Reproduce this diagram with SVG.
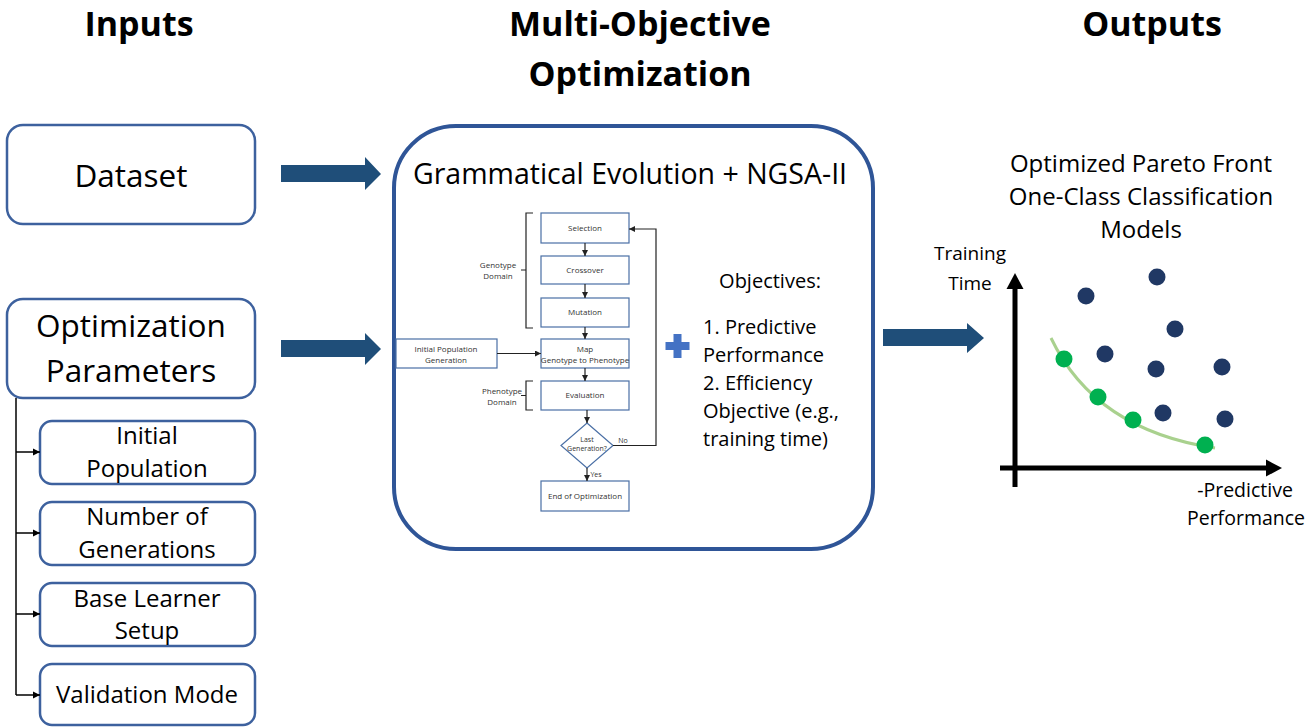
<svg xmlns="http://www.w3.org/2000/svg" width="1307" height="727" viewBox="0 0 1307 727">
  <defs>
    <style>
      text { font-family: "Open Sans", "Noto Sans", sans-serif; fill: #000; }
      .hdr { font-size: 34px; font-weight: bold; text-anchor: middle; }
      .big { font-size: 31.5px; text-anchor: middle; }
      .mid { font-size: 24px; text-anchor: middle; }
      .obj { font-size: 20px; }
      .fc { font-size: 8px; text-anchor: middle; fill: #333; }
      .fcs { font-size: 7px; text-anchor: middle; fill: #333; }
      .box { fill: #fff; stroke: #3D619E; stroke-width: 2.5; }
      .fbox { fill: #fff; stroke: #4A6FA5; stroke-width: 1.2; }
      .fline { fill: none; stroke: #222; stroke-width: 1.2; }
      .tree { fill: none; stroke: #000; stroke-width: 1.5; }
      .fat { fill: #1F4E79; }
      .dot { fill: #203864; }
      .pf { fill: #00B050; }
    </style>
    <marker id="fcArrow" viewBox="0 0 10 10" refX="10" refY="5" markerWidth="5" markerHeight="5" orient="auto">
      <path d="M0,0 L10,5 L0,10 z" fill="#222"/>
    </marker>
    <marker id="treeArrow" viewBox="0 0 10 10" refX="10" refY="5" markerWidth="5" markerHeight="5" orient="auto">
      <path d="M0,0 L10,5 L0,10 z" fill="#000"/>
    </marker>
  </defs>

  <rect width="1307" height="727" fill="#fff"/>

  <!-- Column headers -->
  <g id="headers">
    <text class="hdr" x="139" y="36">Inputs</text>
    <text class="hdr" x="640" y="36">Multi-Objective</text>
    <text class="hdr" x="640" y="86">Optimization</text>
    <text class="hdr" x="1152" y="36">Outputs</text>
  </g>

  <!-- Inputs -->
  <g id="dataset">
    <rect class="box" x="7" y="125" width="248" height="99" rx="16"/>
    <text class="big" x="131" y="187">Dataset</text>
  </g>
  <g id="opt-params">
    <rect class="box" x="7" y="299" width="248" height="99" rx="16"/>
    <text class="big" x="131" y="337">Optimization</text>
    <text class="big" x="131" y="382">Parameters</text>
  </g>
  <g id="initial-population">
    <rect class="box" x="40" y="421" width="215" height="63" rx="12"/>
    <text class="mid" x="147" y="444">Initial</text>
    <text class="mid" x="147" y="477">Population</text>
  </g>
  <g id="number-of-generations">
    <rect class="box" x="40" y="502" width="215" height="63" rx="12"/>
    <text class="mid" x="147" y="525">Number of</text>
    <text class="mid" x="147" y="558">Generations</text>
  </g>
  <g id="base-learner-setup">
    <rect class="box" x="40" y="583" width="215" height="63" rx="12"/>
    <text class="mid" x="147" y="607">Base Learner</text>
    <text class="mid" x="147" y="639">Setup</text>
  </g>
  <g id="validation-mode">
    <rect class="box" x="40" y="664" width="215" height="61" rx="12"/>
    <text class="mid" x="147" y="703">Validation Mode</text>
  </g>

  <!-- Optimization block -->
  <g id="optimizer">
    <rect x="394" y="126" width="479" height="423" rx="62" fill="#fff" stroke="#2F5597" stroke-width="4"/>
    <text x="630" y="184" font-size="28.5" text-anchor="middle">Grammatical Evolution + NGSA-II</text>
  </g>

  <!-- Flowchart of the evolutionary loop -->
  <g id="flowchart">
    <g id="fc-selection">
      <rect class="fbox" x="541" y="213" width="88" height="30"/>
      <text class="fc" x="585" y="231">Selection</text>
    </g>
    <g id="fc-crossover">
      <rect class="fbox" x="541" y="256" width="88" height="28"/>
      <text class="fc" x="585" y="273">Crossover</text>
    </g>
    <g id="fc-mutation">
      <rect class="fbox" x="541" y="298" width="88" height="29"/>
      <text class="fc" x="585" y="315">Mutation</text>
    </g>
    <g id="fc-map">
      <rect class="fbox" x="541" y="339" width="88" height="29"/>
      <text class="fc" x="585" y="352">Map</text>
      <text class="fc" x="585" y="363">Genotype to Phenotype</text>
    </g>
    <g id="fc-evaluation">
      <rect class="fbox" x="541" y="381" width="88" height="29"/>
      <text class="fc" x="585" y="398">Evaluation</text>
    </g>
    <g id="fc-last-generation">
      <polygon class="fbox" points="587,423 613,445.5 587,468 561,445.5"/>
      <text class="fcs" x="587" y="442">Last</text>
      <text class="fcs" x="587" y="451">Generation?</text>
    </g>
    <g id="fc-end">
      <rect class="fbox" x="541" y="481" width="88" height="30"/>
      <text class="fc" x="585" y="499">End of Optimization</text>
    </g>
    <g id="fc-init">
      <rect class="fbox" x="396" y="339" width="101" height="29"/>
      <text class="fc" x="446" y="352">Initial Population</text>
      <text class="fc" x="446" y="363">Generation</text>
    </g>
    <g id="fc-genotype-domain">
      <path class="fline" d="M533,213 H526 V328 H533 M526,270 H521"/>
      <text class="fc" x="498" y="268">Genotype</text>
      <text class="fc" x="498" y="279">Domain</text>
    </g>
    <g id="fc-phenotype-domain">
      <path class="fline" d="M533,381 H526 V410 H533 M526,395.5 H521"/>
      <text class="fc" x="502" y="394">Phenotype</text>
      <text class="fc" x="502" y="405">Domain</text>
    </g>
    <g id="fc-connectors">
      <line class="fline" x1="585" y1="243" x2="585" y2="256" marker-end="url(#fcArrow)"/>
      <line class="fline" x1="585" y1="284" x2="585" y2="298" marker-end="url(#fcArrow)"/>
      <line class="fline" x1="585" y1="327" x2="585" y2="339" marker-end="url(#fcArrow)"/>
      <line class="fline" x1="585" y1="368" x2="585" y2="381" marker-end="url(#fcArrow)"/>
      <line class="fline" x1="587" y1="410" x2="587" y2="423" marker-end="url(#fcArrow)"/>
      <line class="fline" x1="587" y1="468" x2="587" y2="481" marker-end="url(#fcArrow)"/>
      <line class="fline" x1="497" y1="353.5" x2="541" y2="353.5" marker-end="url(#fcArrow)"/>
      <path class="fline" d="M613,445.5 H656 V229 H629" marker-end="url(#fcArrow)"/>
      <text class="fcs" x="623" y="443">No</text>
      <text class="fcs" x="596" y="477">Yes</text>
    </g>
  </g>

  <!-- Objectives -->
  <g id="objectives">
    <path d="M673.5,334 h8 v8 h8 v8 h-8 v8 h-8 v-8 h-8 v-8 h8 z" fill="#4472C4"/>
    <text class="obj" x="770" y="288" text-anchor="middle">Objectives:</text>
    <text class="obj" x="703" y="334">1. Predictive</text>
    <text class="obj" x="703" y="362">Performance</text>
    <text class="obj" x="703" y="390">2. Efficiency</text>
    <text class="obj" x="703" y="418">Objective (e.g.,</text>
    <text class="obj" x="703" y="446">training time)</text>
  </g>

  <!-- Outputs: Pareto front chart -->
  <g id="pareto-chart">
    <text x="1141" y="172" font-size="24" text-anchor="middle">Optimized Pareto Front</text>
    <text x="1141" y="205" font-size="24" text-anchor="middle">One-Class Classification</text>
    <text x="1141" y="238" font-size="24" text-anchor="middle">Models</text>
    <text x="970" y="260" font-size="19" text-anchor="middle">Training</text>
    <text x="970" y="290" font-size="19" text-anchor="middle">Time</text>
    <text x="1245" y="497" font-size="19.5" text-anchor="middle">-Predictive</text>
    <text x="1246" y="525" font-size="19.5" text-anchor="middle">Performance</text>

    <line x1="1015" y1="487" x2="1015" y2="286" stroke="#000" stroke-width="5"/>
    <polygon points="1015,273 1023.5,289 1006.5,289" fill="#000"/>
    <line x1="1000" y1="468" x2="1268" y2="468" stroke="#000" stroke-width="5"/>
    <polygon points="1282,468 1266,459.5 1266,476.5" fill="#000"/>

    <path d="M1051,338 Q1095,430 1215,448" fill="none" stroke="#A9D18E" stroke-width="3"/>

    <circle class="dot" cx="1086" cy="296" r="8.5"/>
    <circle class="dot" cx="1157" cy="277" r="8.5"/>
    <circle class="dot" cx="1175" cy="329" r="8.5"/>
    <circle class="dot" cx="1105" cy="354" r="8.5"/>
    <circle class="dot" cx="1156" cy="369" r="8.5"/>
    <circle class="dot" cx="1222" cy="367" r="8.5"/>
    <circle class="dot" cx="1163" cy="413" r="8.5"/>
    <circle class="dot" cx="1225" cy="419" r="8.5"/>

    <circle class="pf" cx="1064" cy="359" r="8.5"/>
    <circle class="pf" cx="1098" cy="397" r="8.5"/>
    <circle class="pf" cx="1133" cy="420" r="8.5"/>
    <circle class="pf" cx="1205" cy="445" r="8.5"/>
  </g>

  <!-- Connectors -->
  <g id="connectors">
    <polygon class="fat" points="281,165 365,165 365,157 381,174 365,190 365,182 281,182"/>
    <polygon class="fat" points="281,340 365,340 365,333 381,349 365,365 365,357 281,357"/>
    <polygon class="fat" points="883,329 967,329 967,323 984,338 967,353 967,346 883,346"/>
    <path class="tree" d="M16,398 V695"/>
    <line class="tree" x1="16" y1="452" x2="40" y2="452" marker-end="url(#treeArrow)"/>
    <line class="tree" x1="16" y1="533" x2="40" y2="533" marker-end="url(#treeArrow)"/>
    <line class="tree" x1="16" y1="614" x2="40" y2="614" marker-end="url(#treeArrow)"/>
    <line class="tree" x1="16" y1="695" x2="40" y2="695" marker-end="url(#treeArrow)"/>
  </g>
</svg>
